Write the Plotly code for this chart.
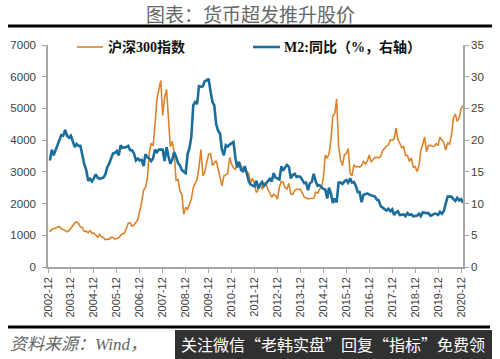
import calendar
import datetime as dt
import plotly.graph_objects as go

# ---------------- data ----------------
start_year, start_month = 2002, 12
n_months = 217

csi300 = (
    [1100]
    + [1190, 1210, 1230, 1260, 1280, 1210, 1190, 1150, 1110, 1150, 1220, 1310]   # 2003
    + [1390, 1420, 1380, 1260, 1250, 1120, 1130, 1080, 1150, 1060, 1070, 1000]   # 2004
    + [940, 1030, 950, 935, 860, 880, 870, 940, 930, 880, 890, 923]              # 2005
    + [1000, 1050, 1060, 1200, 1380, 1400, 1290, 1330, 1400, 1490, 1770, 2041]   # 2006
    + [2430, 2500, 2780, 3600, 3900, 3820, 4470, 5300, 5590, 5880, 4780, 5338]   # 2007
    + [5600, 4700, 3790, 3960, 3620, 2740, 2760, 2390, 2290, 1663, 1880, 1817]   # 2008
    + [1990, 2140, 2510, 2640, 2760, 3140, 3700, 2880, 2990, 3300, 3550, 3575]   # 2009
    + [3200, 3280, 3350, 3100, 2820, 2560, 2870, 2900, 2940, 3460, 3250, 3128]   # 2010
    + [3080, 3240, 3220, 3200, 3060, 3040, 3000, 2940, 2650, 2800, 2620, 2346]   # 2011
    + [2460, 2630, 2450, 2630, 2640, 2460, 2330, 2200, 2290, 2250, 2140, 2522]   # 2012
    + [2690, 2680, 2500, 2460, 2640, 2300, 2290, 2410, 2450, 2440, 2450, 2331]   # 2013
    + [2200, 2180, 2150, 2160, 2160, 2170, 2360, 2330, 2450, 2510, 2810, 3533]   # 2014
    + [3430, 3570, 3990, 4750, 4840, 5300, 3820, 3370, 3200, 3530, 3570, 3731]   # 2015
    + [2950, 2880, 3220, 3160, 3170, 3150, 3200, 3330, 3250, 3340, 3530, 3310]   # 2016
    + [3390, 3450, 3460, 3440, 3490, 3670, 3740, 3820, 3840, 4000, 4000, 4030]   # 2017
    + [4380, 4020, 3900, 3760, 3800, 3510, 3520, 3330, 3440, 3150, 3170, 3010]   # 2018
    + [3200, 3670, 3870, 4100, 3630, 3830, 3840, 3800, 3810, 3890, 3830, 4097]   # 2019
    + [4000, 3940, 3690, 3910, 3870, 4160, 4700, 4820, 4590, 4700, 4980, 5100]   # 2020
)

m2_yoy = (
    [16.8]
    + [18.5, 17.6, 18.5, 19.2, 20.2, 20.8, 20.7, 21.6, 20.7, 20.4, 20.7, 19.6]   # 2003
    + [18.9, 19.4, 19.1, 19.1, 17.5, 16.2, 15.3, 13.6, 13.9, 13.5, 14.0, 14.6]   # 2004
    + [14.1, 13.9, 14.0, 14.1, 14.6, 15.7, 16.3, 17.3, 17.9, 18.0, 18.3, 17.6]   # 2005
    + [19.2, 18.8, 18.8, 18.9, 19.1, 18.4, 18.4, 17.9, 16.8, 17.1, 16.8, 16.9]   # 2006
    + [15.9, 17.8, 17.3, 17.1, 16.7, 17.1, 18.5, 18.1, 18.5, 18.5, 18.5, 16.7]   # 2007
    + [18.9, 17.5, 16.3, 16.9, 18.1, 17.4, 16.4, 16.0, 15.3, 15.0, 14.8, 17.8]   # 2008
    + [18.8, 20.5, 25.5, 26.0, 25.7, 28.5, 28.4, 28.5, 29.3, 29.4, 29.7, 27.7]   # 2009
    + [26.0, 25.5, 22.5, 21.5, 21.0, 18.5, 17.6, 19.2, 19.0, 19.3, 19.5, 19.7]   # 2010
    + [17.2, 15.7, 16.6, 15.3, 15.1, 15.9, 14.7, 13.5, 13.0, 12.9, 12.7, 13.6]   # 2011
    + [12.4, 13.0, 13.4, 12.8, 13.2, 13.6, 13.9, 13.5, 14.8, 14.1, 13.9, 13.8]   # 2012
    + [15.9, 15.2, 15.7, 16.1, 15.8, 14.0, 14.5, 14.7, 14.2, 14.3, 14.2, 13.6]   # 2013
    + [13.2, 13.3, 12.1, 13.2, 13.4, 14.7, 13.5, 12.8, 12.9, 12.6, 12.3, 12.2]   # 2014
    + [10.8, 12.5, 11.6, 10.1, 10.8, 10.2, 13.3, 13.3, 13.1, 13.5, 13.7, 13.3]   # 2015
    + [14.0, 13.3, 13.4, 12.8, 11.8, 11.8, 10.2, 11.4, 11.5, 11.6, 11.4, 11.3]   # 2016
    + [11.3, 11.1, 10.6, 10.5, 9.6, 9.4, 9.2, 8.9, 9.2, 8.8, 9.1, 8.2]           # 2017
    + [8.6, 8.8, 8.2, 8.3, 8.3, 8.0, 8.5, 8.2, 8.3, 8.0, 8.0, 8.1]              # 2018
    + [8.4, 8.0, 8.6, 8.5, 8.5, 8.5, 8.1, 8.2, 8.4, 8.4, 8.2, 8.7]              # 2019
    + [8.4, 8.8, 10.1, 11.1, 11.1, 11.1, 10.7, 10.4, 10.9, 10.5, 10.7, 10.1]     # 2020
)

tick_years = list(range(2002, 2021))
tick_labels = [f"{y}-12" for y in tick_years]

# month-end dates for each observation
dates = []
y, m = start_year, start_month
for _ in range(n_months):
    dates.append(dt.date(y, m, calendar.monthrange(y, m)[1]))
    m += 1
    if m > 12:
        m = 1
        y += 1

W, H = 500, 359
def X(p):  # page pixel -> paper x (margins are zero, so paper == page)
    return p / W
def Y(p):
    return 1 - p / H

ORANGE = "#DD8229"
BLUE = "#1B6E9B"
AXIS = "#A6A6A6"
TICKFONT = dict(family="Liberation Sans, Arial, sans-serif", size=11.5, color="#404040")

fig = go.Figure()
fig.add_trace(go.Scatter(x=dates, y=csi300, mode="lines", name="沪深300指数",
                         line=dict(color=ORANGE, width=1.6), yaxis="y"))
fig.add_trace(go.Scatter(x=dates, y=m2_yoy, mode="lines", name="M2:同比（%，右轴）",
                         line=dict(color=BLUE, width=2.6), yaxis="y2"))

fig.update_layout(
    width=W, height=H,
    margin=dict(l=0, r=0, t=0, b=0, autoexpand=False),
    paper_bgcolor="white", plot_bgcolor="white",
    showlegend=False,
    xaxis=dict(
        type="date", automargin=False, domain=[X(48), X(463)],
        range=["2002-12-01", "2020-12-31"],
        tickmode="array",
        tickvals=[f"{yy}-12-01" for yy in tick_years],
        ticktext=tick_labels,
        tickangle=-90,
        ticks="outside", ticklen=4, tickcolor=AXIS, tickwidth=1,
        showline=True, linecolor=AXIS, linewidth=1.5,
        showgrid=False, zeroline=False,
        tickfont=dict(family="Liberation Sans, Arial, sans-serif", size=11, color="#404040"),
    ),
    yaxis=dict(
        automargin=False, domain=[Y(267), Y(45)],
        range=[0, 7000], tickvals=list(range(0, 7001, 1000)),
        ticks="outside", ticklen=4, tickcolor=AXIS,
        showline=True, linecolor=AXIS, linewidth=1.5,
        showgrid=False, zeroline=False, tickfont=TICKFONT,
        ticklabelstandoff=4,
    ),
    yaxis2=dict(
        automargin=False,
        range=[0, 35], tickvals=list(range(0, 36, 5)),
        overlaying="y", side="right", anchor="x",
        ticks="outside", ticklen=4, tickcolor=AXIS,
        showline=True, linecolor=AXIS, linewidth=1.5,
        showgrid=False, zeroline=False, tickfont=TICKFONT,
    ),
)

def hbar(x0, x1, yc, thick, color):
    return dict(type="rect", xref="paper", yref="paper",
                x0=X(x0), x1=X(x1), y0=Y(yc - thick / 2), y1=Y(yc + thick / 2),
                fillcolor=color, line=dict(width=0), layer="above")

LEGFONT = dict(family="Liberation Serif, Noto Sans CJK SC", size=14, color="#111111")
shapes = [
    hbar(8, 492, 26, 3, "black"),          # title rule
    hbar(8, 490, 327, 3, "black"),         # bottom rule
    hbar(77, 103, 47, 1.6, ORANGE),        # legend samples
    hbar(253, 280, 47, 2.6, BLUE),
    # watermark box
    dict(type="rect", xref="paper", yref="paper", x0=X(175), x1=X(492), y0=Y(330), y1=Y(359),
         fillcolor="rgba(38,38,38,0.95)", line=dict(width=0), layer="above"),
]
annotations = [
    dict(text="图表：货币超发推升股价", xref="paper", yref="paper", x=X(250), y=Y(14),
         xanchor="center", yanchor="middle", showarrow=False,
         font=dict(family="Noto Sans CJK SC", size=19, color="#666666")),
    dict(text="<b>沪深300指数</b>", xref="paper", yref="paper", x=X(106), y=Y(47),
         xanchor="left", yanchor="middle", showarrow=False, font=LEGFONT),
    dict(text="<b>M2:同比（%，右轴）</b>", xref="paper", yref="paper", x=X(282), y=Y(47),
         xanchor="left", yanchor="middle", showarrow=False, font=LEGFONT),
    dict(text="<i>资料来源：Wind，</i>", xref="paper", yref="paper", x=X(8), y=Y(344),
         xanchor="left", yanchor="middle", showarrow=False,
         font=dict(family="Liberation Serif, Noto Sans CJK SC", size=17, color="#666666")),
    dict(text="关注微信“老韩实盘”回复“指标”免费领", xref="paper", yref="paper",
         x=X(333), y=Y(344), xanchor="center", yanchor="middle", showarrow=False,
         font=dict(family="Noto Sans CJK SC", size=16, color="white")),
]
fig.update_layout(shapes=shapes, annotations=annotations)

fig.write_html("out.html", config={"displayModeBar": False},
               post_script="document.body.style.margin='0';")
